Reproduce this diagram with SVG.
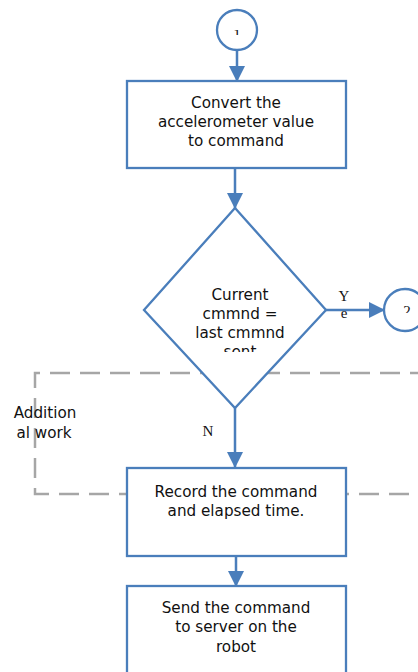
<svg xmlns="http://www.w3.org/2000/svg" width="418" height="672" viewBox="0 0 418 672">
  <style>
    .shape { fill: #ffffff; stroke: #4a7ebb; stroke-width: 2.3; }
    .conn { fill: none; stroke: #4a7ebb; stroke-width: 2.5; }
    .lbl { font-family: "DejaVu Sans", Verdana, sans-serif; font-size: 15.2px; fill: #111111; text-anchor: middle; }
    .ser { font-family: "Liberation Serif", "Times New Roman", serif; font-size: 15px; fill: #111111; text-anchor: middle; }
    .group { fill: none; stroke: #a6a6a6; stroke-width: 2.5; stroke-dasharray: 20 10; }
  </style>
  <defs>
    <marker id="arrow" viewBox="0 0 16 16" refX="15" refY="8" markerWidth="16" markerHeight="16" markerUnits="userSpaceOnUse" orient="auto">
      <path d="M0,0 L16,8 L0,16 Z" fill="#4a7ebb"/>
    </marker>
    <clipPath id="clipDiamond"><rect x="140" y="200" width="190" height="152"/></clipPath>
    <clipPath id="clipOne"><rect x="233" y="30" width="8" height="5"/></clipPath>
    <clipPath id="clipTwo"><rect x="395" y="296" width="23" height="17"/></clipPath>
  </defs>

  <!-- Dashed boundary for the additional work region -->
  <g id="additional-work">
    <path class="group" d="M460,373 H35 V494 H460"/>
    <text class="lbl" x="45" y="418">Addition</text>
    <text class="lbl" x="44" y="438">al work</text>
  </g>

  <!-- Connectors -->
  <g id="connectors">
    <line class="conn" x1="237" y1="51" x2="237" y2="81" marker-end="url(#arrow)"/>
    <line class="conn" x1="235" y1="168" x2="235" y2="208" marker-end="url(#arrow)"/>
    <line class="conn" x1="326" y1="310" x2="384" y2="310" marker-end="url(#arrow)"/>
    <line class="conn" x1="235" y1="408" x2="235" y2="467" marker-end="url(#arrow)"/>
    <line class="conn" x1="236" y1="556" x2="236" y2="586" marker-end="url(#arrow)"/>
    <text class="ser" x="344" y="301">Y</text>
    <text class="ser" x="344" y="318">e</text>
    <text class="ser" x="208" y="436">N</text>
  </g>

  <!-- Off-page connector 1 -->
  <g id="connector-1">
    <circle class="shape" cx="237" cy="30" r="20"/>
    <text class="ser" x="237" y="39" clip-path="url(#clipOne)">1</text>
  </g>

  <!-- Convert step -->
  <g id="convert">
    <rect class="shape" x="127" y="81" width="219" height="87"/>
    <text class="lbl" x="236" y="108">Convert the</text>
    <text class="lbl" x="236" y="127">accelerometer value</text>
    <text class="lbl" x="236" y="146">to command</text>
  </g>

  <!-- Decision -->
  <g id="decision">
    <path class="shape" d="M235,208 L326,310 L235,408 L144,310 Z"/>
    <g clip-path="url(#clipDiamond)">
      <text class="lbl" x="240" y="300">Current</text>
      <text class="lbl" x="240" y="319">cmmnd =</text>
      <text class="lbl" x="240" y="338">last cmmnd</text>
      <text class="lbl" x="240" y="357">sent</text>
    </g>
  </g>

  <!-- Off-page connector 2 -->
  <g id="connector-2">
    <circle class="shape" cx="405" cy="310" r="21"/>
    <text class="ser" x="407" y="316" font-size="14" clip-path="url(#clipTwo)">2</text>
  </g>

  <!-- Record step -->
  <g id="record">
    <rect class="shape" x="127" y="468" width="219" height="88"/>
    <text class="lbl" x="236" y="497">Record the command</text>
    <text class="lbl" x="236" y="516">and elapsed time.</text>
  </g>

  <!-- Send step -->
  <g id="send">
    <rect class="shape" x="127" y="586" width="219" height="100"/>
    <text class="lbl" x="236" y="613">Send the command</text>
    <text class="lbl" x="236" y="632">to server on the</text>
    <text class="lbl" x="236" y="652">robot</text>
  </g>
</svg>
